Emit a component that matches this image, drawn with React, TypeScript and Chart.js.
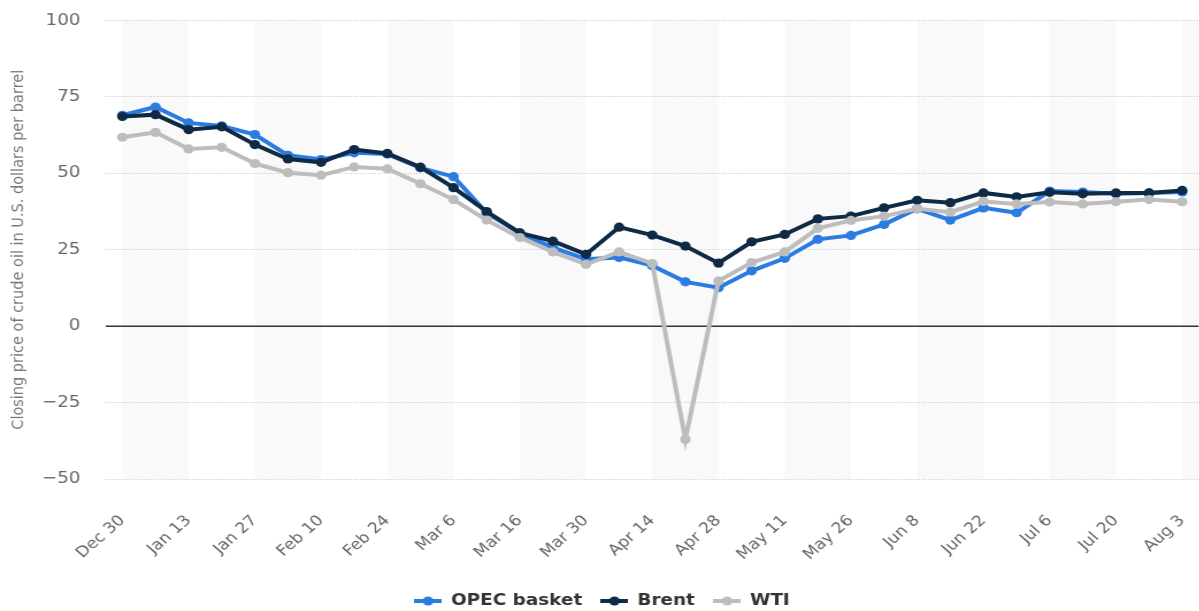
import React, { useEffect, useRef } from "react";
import { Chart, registerables } from "chart.js";

Chart.register(...registerables);

// ---------- data ----------
const categories = [
  "Dec 30", "Jan 6", "Jan 13", "Jan 20", "Jan 27", "Feb 3", "Feb 10", "Feb 17", "Feb 24",
  "Mar 2", "Mar 6", "Mar 9", "Mar 16", "Mar 23", "Mar 30", "Apr 6", "Apr 14", "Apr 20",
  "Apr 28", "May 4", "May 11", "May 18", "May 26", "Jun 1", "Jun 8", "Jun 15", "Jun 22",
  "Jun 29", "Jul 6", "Jul 13", "Jul 20", "Jul 27", "Aug 3",
];

const opecValues = [
  69.0, 71.7, 66.5, 65.5, 62.7, 55.9, 54.5, 56.7, 56.3, 51.8, 48.9, 37.0, 30.5, 25.7, 21.9,
  22.5, 19.8, 14.5, 12.6, 18.1, 22.2, 28.4, 29.7, 33.3, 38.4, 34.7, 38.7, 37.1, 44.2, 43.9,
  43.3, 43.6, 43.9,
];

const brentValues = [
  68.6, 69.2, 64.3, 65.2, 59.4, 54.7, 53.6, 57.8, 56.5, 52.0, 45.3, 37.5, 30.5, 27.8, 23.5,
  32.4, 29.8, 26.2, 20.6, 27.6, 30.0, 35.1, 36.0, 38.7, 41.2, 40.4, 43.6, 42.3, 43.8, 43.3,
  43.6, 43.6, 44.4,
];

const wtiValues = [
  61.8, 63.4, 58.0, 58.5, 53.2, 50.2, 49.4, 52.1, 51.5, 46.6, 41.4, 34.7, 29.0, 24.3, 20.2,
  24.3, 20.5, -37.1, 14.8, 20.8, 24.3, 32.0, 34.6, 36.0, 38.4, 37.3, 40.8, 40.0, 40.6, 40.0,
  40.7, 41.4, 40.7,
];

const seriesNames = ["OPEC basket", "Brent", "WTI"];
const seriesColors = ["#2a7be2", "#0e2a45", "#bdbdbd"];

const yMin = -50;
const yMax = 100;
const yStep = 25;
const yTitle = "Closing price of crude oil in U.S. dollars per barrel";

// ---------- geometry ----------
const STRETCH = 1.15;
const CSS_W = 1204;
const H = 619;
const W = Math.round(CSS_W / STRETCH);
const FONT = "'DejaVu Sans', sans-serif";
const CLEAR = "rgba(0,0,0,0)";

function makeSymbol(color: string): HTMLCanvasElement {
  const c = document.createElement("canvas");
  c.width = 24;
  c.height = 10;
  const g = c.getContext("2d")!;
  g.strokeStyle = color;
  g.lineWidth = 4;
  g.beginPath();
  g.moveTo(0, 5);
  g.lineTo(24, 5);
  g.stroke();
  g.fillStyle = color;
  g.beginPath();
  g.arc(12, 5, 4.6, 0, Math.PI * 2);
  g.fill();
  return c;
}

const bandsPlugin = {
  id: "bands",
  beforeDraw(chart: any) {
    const { ctx, chartArea } = chart;
    const xs = chart.scales.x;
    ctx.save();
    ctx.fillStyle = "#f9f9f9";
    for (let i = 0; i < categories.length; i += 4) {
      const x1 = xs.getPixelForValue(i);
      const x2 =
        i + 2 > categories.length - 1 ? chartArea.right : xs.getPixelForValue(i + 2);
      ctx.fillRect(x1, chartArea.top, x2 - x1, chartArea.bottom - chartArea.top);
    }
    ctx.restore();
  },
  beforeDatasetsDraw(chart: any) {
    const { ctx, chartArea } = chart;
    const y = chart.scales.y.getPixelForValue(0);
    ctx.save();
    ctx.strokeStyle = "#333333";
    ctx.lineWidth = 1.5;
    ctx.beginPath();
    ctx.moveTo(chartArea.left, y);
    ctx.lineTo(chartArea.right, y);
    ctx.stroke();
    ctx.restore();
  },
};

export default function App() {
  const ref = useRef<HTMLCanvasElement>(null);

  useEffect(() => {
    document.body.style.margin = "0";
    const canvas = ref.current!;
    const symbols = seriesColors.map(makeSymbol);
    const values = [opecValues, brentValues, wtiValues];

    const chart = new Chart(canvas, {
      type: "line",
      data: {
        labels: categories,
        datasets: seriesNames.map((name, i) => ({
          label: name,
          data: values[i],
          borderColor: seriesColors[i],
          backgroundColor: seriesColors[i],
          pointBackgroundColor: seriesColors[i],
          pointBorderWidth: 0,
          pointRadius: 4.6,
          borderWidth: 4,
          tension: 0,
          fill: false,
          order: 3 - i,
        })),
      },
      options: {
        responsive: false,
        animation: false,
        devicePixelRatio: 1,
        layout: { padding: { top: 20.5, left: 0, right: 0, bottom: 0 } },
        plugins: {
          tooltip: { enabled: false },
          legend: {
            position: "bottom",
            labels: {
              usePointStyle: true,
              pointStyleWidth: 24,
              padding: 16,
              color: "#333333",
              font: { family: FONT, size: 16, weight: "bold" },
              sort: (a: any, b: any) => a.datasetIndex - b.datasetIndex,
              generateLabels: (ch: any) => {
                const items = (Chart as any).defaults.plugins.legend.labels.generateLabels(ch);
                items.forEach((it: any) => {
                  it.pointStyle = symbols[it.datasetIndex];
                });
                return items;
              },
            },
          },
        },
        scales: {
          x: {
            type: "category",
            offset: true,
            grid: {
              display: true,
              drawOnChartArea: false,
              drawTicks: true,
              tickLength: 33,
              tickColor: CLEAR,
              color: CLEAR,
            },
            border: { display: false },
            afterFit: (s: any) => {
              s.height = 98;
            },
            ticks: {
              autoSkip: false,
              maxRotation: 45,
              minRotation: 45,
              padding: 0,
              color: "#666666",
              font: { family: FONT, size: 15 },
              callback: (_v: any, idx: number) => (idx % 2 === 0 ? categories[idx] : ""),
            },
          },
          y: {
            min: yMin,
            max: yMax,
            afterFit: (s: any) => {
              s.width = 92;
            },
            ticks: {
              stepSize: yStep,
              padding: 0,
              color: "#666666",
              font: { family: FONT, size: 16 },
              callback: (v: any) => (Number(v) < 0 ? "\u2212" + Math.abs(Number(v)) : String(v)),
            },
            grid: {
              display: true,
              drawTicks: true,
              tickLength: 22,
              tickColor: CLEAR,
              lineWidth: 1,
              color: (c: any) => (c.tick && c.tick.value === 0 ? CLEAR : "#c4c4c4"),
            },
            border: { display: false, dash: [1, 1.6] },
            title: {
              display: true,
              text: yTitle,
              color: "#7a7a7a",
              font: { family: FONT, size: 14.5 },
              padding: { top: 8, bottom: 0 },
            },
          },
        },
      },
      plugins: [bandsPlugin],
    } as any);

    return () => chart.destroy();
  }, []);

  return (
    <div style={{ width: 1199, height: 611, overflow: "hidden", position: "relative" }}>
      <canvas
        ref={ref}
        width={W}
        height={H}
        style={{ width: CSS_W + "px", height: H + "px", display: "block" }}
      />
    </div>
  );
}
